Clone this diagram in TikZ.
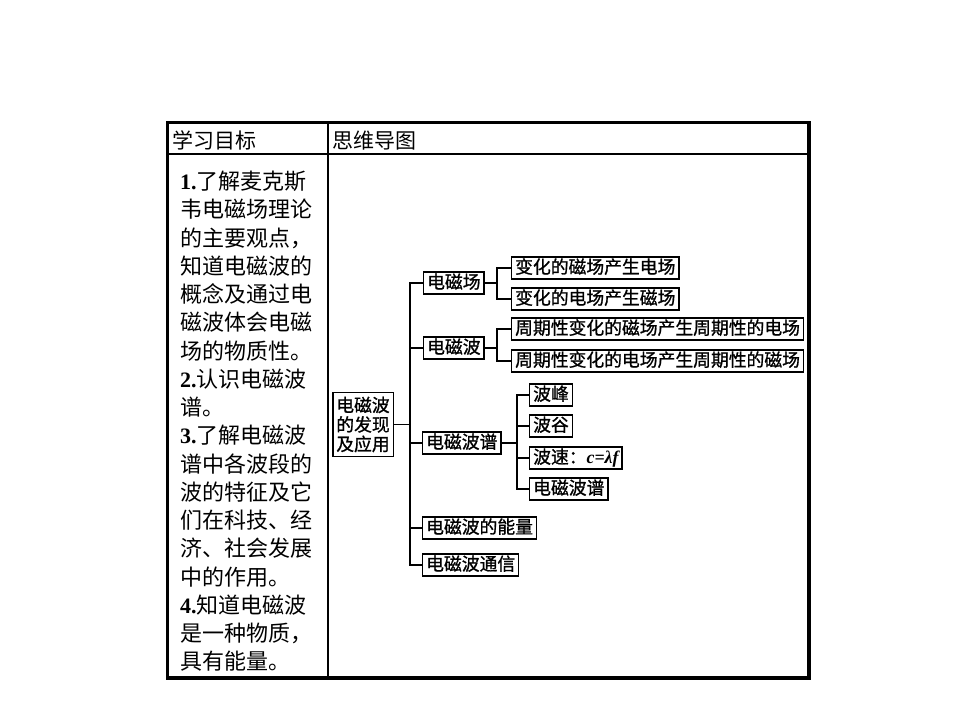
\documentclass[tikz,border=0pt]{standalone}
\usepackage{fontspec}
\setmainfont{Liberation Serif}
\newfontfamily\cjk{Noto Sans CJK SC}
\newfontfamily\cjkb[FakeBold=1]{Noto Sans CJK SC}
\newfontfamily\tnr{Liberation Serif}
\newcommand{\itemnum}[1]{{\tnr\bfseries #1.}}
\begin{document}
\begin{tikzpicture}[x=1pt,y=-1pt,
  mbox/.style={draw, line width=1.4pt, font=\cjkb\fontsize{17.8}{19.5}\selectfont,
    inner xsep=3.5pt, inner ysep=2.5pt, text height=13.8pt, text depth=3pt, anchor=west},
  conn/.style={line width=1.4pt},
  ltext/.style={anchor=base west, inner sep=0pt, font=\cjk\fontsize{22}{28}\selectfont},
  htext/.style={anchor=base west, inner sep=0pt, font=\cjk\fontsize{21}{21}\selectfont},
]
\useasboundingbox (0,0) rectangle (960,720);
\fill[white] (0,0) rectangle (960,720);

% table
\draw[line width=1.5pt] (167.5,154) -- (809,154);
\draw[line width=2pt] (327.5,122.5) -- (327.5,678);
\draw[line width=3.5pt] (167.5,122.5) rectangle (809,678);

% headers
\node[htext] (h1) at (172,148.5) {学习目标};
\node[htext] (h2) at (332,148.5) {思维导图};

% left column
\foreach \t [count=\i from 0] in {
  \itemnum{1}了解麦克斯,
  韦电磁场理论,
  的主要观点，,
  知道电磁波的,
  概念及通过电,
  磁波体会电磁,
  场的物质性。,
  \itemnum{2}认识电磁波,
  谱。,
  \itemnum{3}了解电磁波,
  谱中各波段的,
  波的特征及它,
  们在科技、经,
  济、社会发展,
  中的作用。,
  \itemnum{4}知道电磁波,
  是一种物质，,
  具有能量。}
  \node[ltext] (l\i) at (180,{189.5+\i*28.25}) {\t};

% mind map nodes
\node[draw, line width=1.4pt, font=\cjkb\fontsize{17.8}{19.5}\selectfont,
  align=center, inner xsep=3.5pt, inner ysep=4pt] (root) at (363,424.5)
  {电磁波\\的发现\\及应用};

\node[mbox] (ec) at (423,283) {电磁场};
\node[mbox] (ew) at (423,348) {电磁波};
\node[mbox] (es) at (422,443) {电磁波谱};
\node[mbox] (ee) at (422,528) {电磁波的能量};
\node[mbox] (et) at (422,565) {电磁波通信};

\node[mbox] (a1) at (511,268) {变化的磁场产生电场};
\node[mbox] (a2) at (511,299) {变化的电场产生磁场};
\node[mbox] (b1) at (511,329) {周期性变化的磁场产生周期性的电场};
\node[mbox] (b2) at (511,361) {周期性变化的电场产生周期性的磁场};

\node[mbox] (c1) at (529,395) {波峰};
\node[mbox] (c2) at (529,426) {波谷};
\node[mbox] (c3) at (529,458) {波速：{\tnr\bfseries\itshape c=λf}};
\node[mbox] (c4) at (529,489) {电磁波谱};

% junction coordinates
\coordinate (tx) at (410,0);
\coordinate (j1) at (497,0);
\coordinate (j2) at (517,0);

% connectors: main trunk
\draw[conn] (root.east) -- (root.east -| tx);
\draw[conn] (ec.west) -- (ec.west -| tx) -- (et.west -| tx) -- (et.west);
\draw[conn] (ew.west) -- (ew.west -| tx);
\draw[conn] (es.west) -- (es.west -| tx);
\draw[conn] (ee.west) -- (ee.west -| tx);

% 电磁场 branch
\draw[conn] (ec.east) -- (ec.east -| j1);
\draw[conn] (a1.west) -- (a1.west -| j1) -- (a2.west -| j1) -- (a2.west);

% 电磁波 branch
\draw[conn] (ew.east) -- (ew.east -| j1);
\draw[conn] (b1.west) -- (b1.west -| j1) -- (b2.west -| j1) -- (b2.west);

% 电磁波谱 branch
\draw[conn] (es.east) -- (es.east -| j2);
\draw[conn] (c1.west) -- (c1.west -| j2) -- (c4.west -| j2) -- (c4.west);
\draw[conn] (c2.west) -- (c2.west -| j2);
\draw[conn] (c3.west) -- (c3.west -| j2);
\end{tikzpicture}
\end{document}
